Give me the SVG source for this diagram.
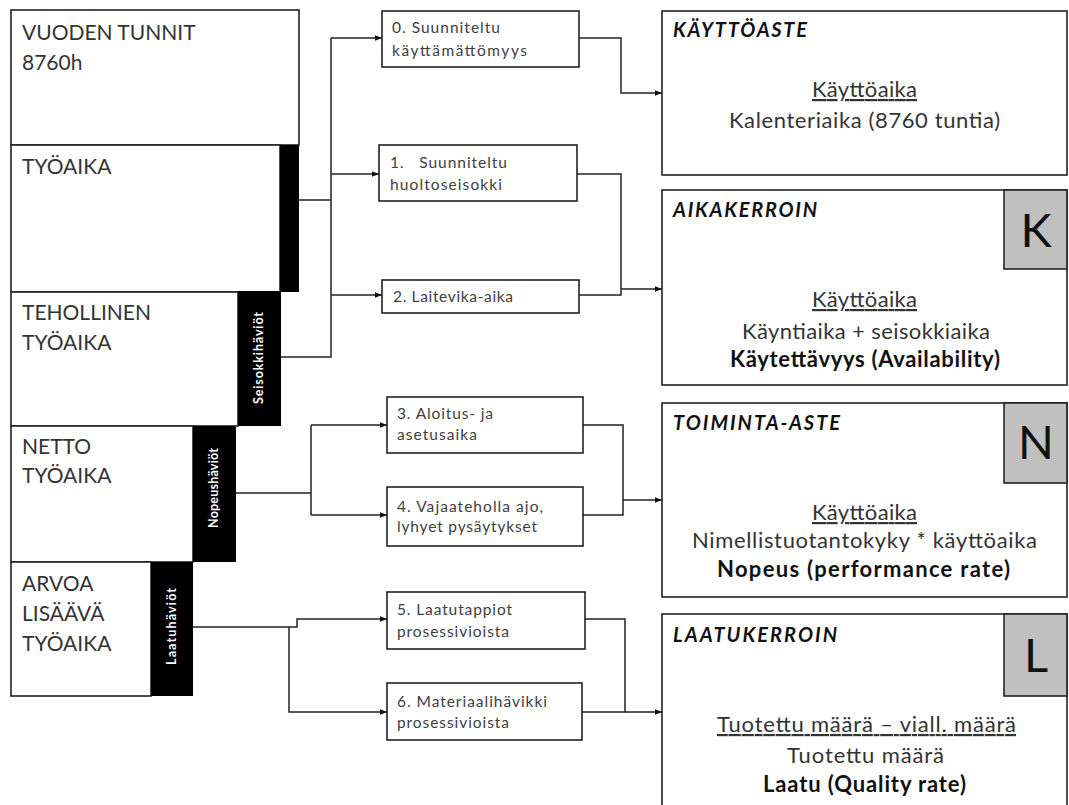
<svg xmlns="http://www.w3.org/2000/svg" width="1069" height="805" viewBox="0 0 1069 805">
<defs>
<marker id="arr" viewBox="0 0 10 10" refX="10" refY="5" markerWidth="7" markerHeight="7" markerUnits="userSpaceOnUse" orient="auto">
<path d="M0,1 L10,5 L0,9 z" fill="#111"/>
</marker>
</defs>
<style>
.box{fill:#fff;stroke:#222;stroke-width:1.6}
.bar{fill:#000}
.gray{fill:#c0c0c0;stroke:#222;stroke-width:1.6}
.lt{font-family:Lato,"Liberation Sans",sans-serif;font-size:21px;fill:#333}
.sm{font-family:Lato,"Liberation Sans",sans-serif;font-size:15.5px;fill:#404040}
.vt{font-family:Lato,"Liberation Sans",sans-serif;font-size:12.5px;fill:#fff;font-weight:bold}
.ti{font-family:Lato,"Liberation Sans",sans-serif;font-size:20px;font-weight:bold;font-style:italic;fill:#111}
.bd{font-family:Lato,"Liberation Sans",sans-serif;font-size:22px;fill:#333}
.bb{font-weight:bold;fill:#111}
.big{font-family:Lato,"Liberation Sans",sans-serif;font-size:47px;fill:#111;text-anchor:middle}
.c{fill:none;stroke:#222;stroke-width:1.5}
</style>

<g id="vuoden-tunnit">
<rect class="box" x="11" y="10" width="288" height="135"/>
<text class="lt" x="22" y="40">VUODEN TUNNIT</text>
<text class="lt" x="22" y="70">8760h</text>
</g>
<g id="tyoaika">
<rect class="box" x="11" y="145" width="269" height="147"/>
<rect class="bar" x="280" y="145" width="19" height="147"/>
<text class="lt" x="22" y="174">TYÖAIKA</text>
</g>
<g id="tehollinen">
<rect class="box" x="11" y="292" width="227" height="134"/>
<rect class="bar" x="238" y="291" width="43" height="135"/>
<text class="lt" x="22" y="320">TEHOLLINEN</text>
<text class="lt" x="22" y="350">TYÖAIKA</text>
<text class="vt" x="-404" y="263" transform="rotate(-90)" textLength="92" lengthAdjust="spacing">Seisokkihäviöt</text>
</g>
<g id="netto">
<rect class="box" x="11" y="426" width="182" height="136"/>
<rect class="bar" x="193" y="426" width="43" height="136"/>
<text class="lt" x="22" y="454">NETTO</text>
<text class="lt" x="22" y="483">TYÖAIKA</text>
<text class="vt" x="-528" y="218" transform="rotate(-90)" textLength="80" lengthAdjust="spacing">Nopeushäviöt</text>
</g>
<g id="arvoa">
<rect class="box" x="11" y="562" width="140" height="134"/>
<rect class="bar" x="151" y="562" width="42" height="134"/>
<text class="lt" x="22" y="591">ARVOA</text>
<text class="lt" x="22" y="621">LISÄÄVÄ</text>
<text class="lt" x="22" y="651">TYÖAIKA</text>
<text class="vt" x="-665" y="176" transform="rotate(-90)" textLength="77" lengthAdjust="spacing">Laatuhäviöt</text>
</g>

<g id="b0">
<rect class="box" x="382" y="11" width="197" height="56"/>
<text class="sm" x="392" y="33" textLength="108" lengthAdjust="spacing">0. Suunniteltu</text>
<text class="sm" x="392" y="56" textLength="135" lengthAdjust="spacing">käyttämättömyys</text>
</g>
<g id="b1">
<rect class="box" x="379" y="145" width="198" height="56"/>
<text class="sm" x="390" y="168" xml:space="preserve" textLength="117" lengthAdjust="spacing">1.   Suunniteltu</text>
<text class="sm" x="390" y="190" textLength="112" lengthAdjust="spacing">huoltoseisokki</text>
</g>
<g id="b2">
<rect class="box" x="382" y="280" width="197" height="33"/>
<text class="sm" x="393" y="302" textLength="120" lengthAdjust="spacing">2. Laitevika-aika</text>
</g>
<g id="b3">
<rect class="box" x="387" y="397" width="196" height="56"/>
<text class="sm" x="397" y="419" textLength="96" lengthAdjust="spacing">3. Aloitus- ja</text>
<text class="sm" x="397" y="440" textLength="80" lengthAdjust="spacing">asetusaika</text>
</g>
<g id="b4">
<rect class="box" x="387" y="487" width="196" height="59"/>
<text class="sm" x="397" y="512" textLength="146" lengthAdjust="spacing">4. Vajaateholla ajo,</text>
<text class="sm" x="397" y="532" textLength="140" lengthAdjust="spacing">lyhyet pysäytykset</text>
</g>
<g id="b5">
<rect class="box" x="387" y="592" width="198" height="57"/>
<text class="sm" x="397" y="615" textLength="115" lengthAdjust="spacing">5. Laatutappiot</text>
<text class="sm" x="397" y="637" textLength="112" lengthAdjust="spacing">prosessivioista</text>
</g>
<g id="b6">
<rect class="box" x="387" y="683" width="195" height="57"/>
<text class="sm" x="397" y="707" textLength="150" lengthAdjust="spacing">6. Materiaalihävikki</text>
<text class="sm" x="397" y="728" textLength="112" lengthAdjust="spacing">prosessivioista</text>
</g>

<g id="kayttoaste">
<rect class="box" x="662" y="11" width="405" height="164"/>
<text class="ti" x="673" y="37" textLength="134" lengthAdjust="spacing">KÄYTTÖASTE</text>
<text class="bd" x="812" y="97" text-decoration="underline" textLength="105" lengthAdjust="spacing">Käyttöaika</text>
<text class="bd" x="729" y="128" textLength="271" lengthAdjust="spacing">Kalenteriaika (8760 tuntia)</text>
</g>
<g id="aikakerroin">
<rect class="box" x="662" y="190" width="405" height="195"/>
<rect class="gray" x="1004" y="190" width="63" height="79"/>
<text class="big" x="1036" y="247">K</text>
<text class="ti" x="673" y="217" textLength="144" lengthAdjust="spacing">AIKAKERROIN</text>
<text class="bd" x="812" y="307" text-decoration="underline" textLength="105" lengthAdjust="spacing">Käyttöaika</text>
<text class="bd" x="742" y="339" textLength="248" lengthAdjust="spacing">Käyntiaika + seisokkiaika</text>
<text class="bd bb" x="730" y="367" textLength="270" lengthAdjust="spacing">Käytettävyys (Availability)</text>
</g>
<g id="toiminta-aste">
<rect class="box" x="662" y="403" width="405" height="194"/>
<rect class="gray" x="1004" y="403" width="63" height="80"/>
<text class="big" x="1036" y="459">N</text>
<text class="ti" x="673" y="430" textLength="167" lengthAdjust="spacing">TOIMINTA-ASTE</text>
<text class="bd" x="812" y="520" text-decoration="underline" textLength="105" lengthAdjust="spacing">Käyttöaika</text>
<text class="bd" x="692" y="548" textLength="345" lengthAdjust="spacing">Nimellistuotantokyky * käyttöaika</text>
<text class="bd bb" x="717" y="577" textLength="293" lengthAdjust="spacing">Nopeus (performance rate)</text>
</g>
<g id="laatukerroin">
<rect class="box" x="662" y="614" width="405" height="200"/>
<rect class="gray" x="1004" y="614" width="63" height="82"/>
<text class="big" x="1036" y="672">L</text>
<text class="ti" x="673" y="642" textLength="164" lengthAdjust="spacing">LAATUKERROIN</text>
<text class="bd" x="717" y="732" text-decoration="underline" textLength="299" lengthAdjust="spacing">Tuotettu määrä – viall. määrä</text>
<text class="bd" x="787" y="763" textLength="157" lengthAdjust="spacing">Tuotettu määrä</text>
<text class="bd bb" x="763" y="792" textLength="203" lengthAdjust="spacing">Laatu (Quality rate)</text>
</g>

<g id="connectors">
<path class="c" d="M299,200 H331"/>
<path class="c" d="M281,357 H331 V38"/>
<path class="c" d="M331,38 H382" marker-end="url(#arr)"/>
<path class="c" d="M331,174 H379" marker-end="url(#arr)"/>
<path class="c" d="M331,295 H382" marker-end="url(#arr)"/>
<path class="c" d="M579,38 H621 V93 H662" marker-end="url(#arr)"/>
<path class="c" d="M577,174 H621 V295 H579"/>
<path class="c" d="M621,289 H662" marker-end="url(#arr)"/>
<path class="c" d="M236,493 H311"/>
<path class="c" d="M311,425 V515"/>
<path class="c" d="M311,425 H387" marker-end="url(#arr)"/>
<path class="c" d="M311,515 H387" marker-end="url(#arr)"/>
<path class="c" d="M583,425 H623 V515 H583"/>
<path class="c" d="M623,500 H662" marker-end="url(#arr)"/>
<path class="c" d="M193,627 H297 V619 H387" marker-end="url(#arr)"/>
<path class="c" d="M289,627 V712 H387" marker-end="url(#arr)"/>
<path class="c" d="M585,619 H625 V712 H582"/>
<path class="c" d="M625,712 H662" marker-end="url(#arr)"/>
</g>
</svg>
